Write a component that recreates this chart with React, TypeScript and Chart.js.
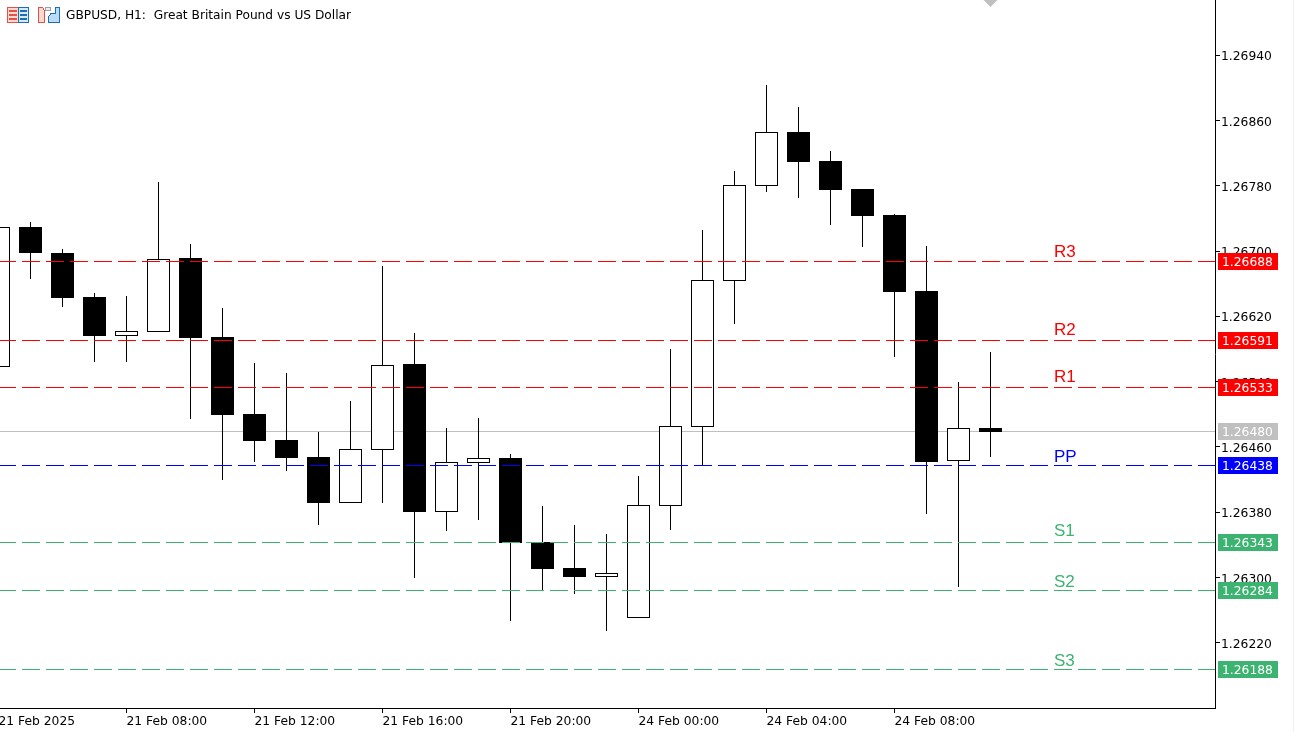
import React, { useEffect, useRef } from "react";
import { Chart, registerables } from "chart.js";

Chart.register(...registerables);

const FONT = "DejaVu Sans";
const FONT_SIZE = 12.3;

const titleText = "GBPUSD, H1:  Great Britain Pound vs US Dollar";

// candle position index, 1 hour per step
const opens = [1.26558, 1.267294, 1.266976, 1.266437, 1.265959, 1.266008, 1.266914, 1.265947, 1.265004, 1.264686, 1.264478, 1.263914, 1.264563, 1.265616, 1.263804, 1.264404, 1.264465, 1.263437, 1.263118, 1.263008, 1.262506, 1.263877, 1.264845, 1.266633, 1.267796, 1.268457, 1.268102, 1.267759, 1.267441, 1.26651, 1.264429, 1.264833];
const highs = [1.267294, 1.267355, 1.267025, 1.266486, 1.266449, 1.267845, 1.267086, 1.266302, 1.265629, 1.265506, 1.264784, 1.265163, 1.266816, 1.265996, 1.264833, 1.264955, 1.264514, 1.263877, 1.263645, 1.263535, 1.264245, 1.2658, 1.267257, 1.26798, 1.269033, 1.268763, 1.268225, 1.267759, 1.267453, 1.267061, 1.265396, 1.265763];
const lows = [1.26558, 1.266657, 1.266314, 1.265641, 1.265641, 1.266008, 1.264943, 1.264196, 1.264416, 1.264306, 1.263645, 1.263914, 1.263914, 1.262996, 1.263571, 1.263706, 1.262469, 1.262849, 1.2628, 1.262347, 1.262506, 1.263584, 1.26438, 1.266106, 1.267722, 1.267649, 1.267318, 1.267049, 1.265702, 1.26378, 1.262886, 1.264478];
const closes = [1.267294, 1.266976, 1.266425, 1.265959, 1.26602, 1.266902, 1.265935, 1.264992, 1.264673, 1.264465, 1.263914, 1.264576, 1.265604, 1.263804, 1.264416, 1.264465, 1.263424, 1.263106, 1.263008, 1.263057, 1.26389, 1.264857, 1.266645, 1.267808, 1.268457, 1.26809, 1.267747, 1.267429, 1.266498, 1.264416, 1.264833, 1.264784];

const xTickIndexes = [0, 4, 8, 12, 16, 20, 24, 28];
const xTickLabels = ["21 Feb 2025", "21 Feb 08:00", "21 Feb 12:00", "21 Feb 16:00", "21 Feb 20:00", "24 Feb 00:00", "24 Feb 04:00", "24 Feb 08:00"];
const yTickValues = [1.2694, 1.2686, 1.2678, 1.267, 1.2662, 1.2654, 1.2646, 1.2638, 1.263, 1.2622];

const levelNames = ["R3", "R2", "R1", "PP", "S1", "S2", "S3"];
const levelValues = [1.26688, 1.26591, 1.26533, 1.26438, 1.26343, 1.26284, 1.26188];
const levelColors = ["#ff0000", "#ff0000", "#ff0000", "#0000ff", "#3cb371", "#3cb371", "#3cb371"];
const levelTextGaps = [4, 5, 5, 3, 6, 3, 3];

const lastPrice = 1.2648;
const lastColor = "#c0c0c0";
const markerIndex = 31;

const X_MIN = 0.046875;
const X_MAX = 38.015625;
const Y_MIN = 1.2613995;
const Y_MAX = 1.270076;

const isUp = (i: number) => closes[i] >= opens[i];

const zeroPadding = (s: any) => {
  s.paddingLeft = 0;
  s.paddingRight = 0;
  s.paddingTop = 0;
  s.paddingBottom = 0;
};

const pixelPlugin = {
  id: "pixelPlugin",
  afterDatasetsUpdate(chart: any) {
    chart.data.datasets.forEach((ds: any, d: number) => {
      const meta = chart.getDatasetMeta(d);
      if (ds.type === "line" && ds.snap) {
        meta.data.forEach((p: any) => {
          p.y = Math.round(p.y) + 0.5;
        });
        const line = meta.dataset;
        if (line) line._path = undefined;
      }
      if (ds.type === "bar") {
        meta.data.forEach((b: any) => {
          b.y = Math.round(b.y);
          b.base = Math.round(b.base);
          b.height = b.base - b.y;
        });
      }
    });
  },
  afterDraw(chart: any) {
    const { ctx, scales } = chart;
    const y = scales.y;
    ctx.save();
    ctx.textBaseline = "alphabetic";
    ctx.textAlign = "left";

    // heading
    ctx.fillStyle = "#000000";
    ctx.font = `12.2px "${FONT}"`;
    ctx.fillText(titleText, 66, 19);

    const tag = (value: number, color: string) => {
      const row = Math.round(y.getPixelForValue(value));
      ctx.fillStyle = color;
      ctx.fillRect(1218, row - 8, 60, 17);
      ctx.fillStyle = "#ffffff";
      ctx.font = `${FONT_SIZE}px "${FONT}"`;
      ctx.fillText(value.toFixed(5), 1222, row + 5);
    };
    tag(lastPrice, lastColor);
    levelValues.forEach((v, i) => {
      tag(v, levelColors[i]);
      const row = Math.round(y.getPixelForValue(v));
      ctx.fillStyle = levelColors[i];
      ctx.font = `17px "Liberation Sans"`;
      ctx.fillText(levelNames[i], 1054, row - levelTextGaps[i]);
    });
    ctx.restore();
  },
};

function Icons() {
  return (
    <svg width={60} height={20} style={{ position: "absolute", left: 5, top: 5 }} shapeRendering="crispEdges">
      <rect x="2.5" y="2.5" width="11" height="15" fill="#fbd9cf" stroke="#e0524a" />
      <rect x="13.5" y="2.5" width="10" height="15" fill="#d5e9f8" stroke="#1b6fb5" />
      <path d="M4 6h8M4 10h8M4 14h8" stroke="#e0524a" strokeWidth="2" />
      <path d="M15 6h7M15 10h7M15 14h7" stroke="#1b6fb5" strokeWidth="2" />
      <path d="M33.5 2.5h4l2 3v12h-6z" fill="#fbd9cf" stroke="#e0524a" />
      <path d="M46 8.5h4.5v-6h4v15h-11v-6z" fill="#bcdcf6" stroke="#1b6fb5" />
      <rect x="40.5" y="2.5" width="5" height="3" fill="#eeeeee" stroke="#a0a0a0" />
    </svg>
  );
}

export default function App() {
  const ref = useRef<HTMLCanvasElement>(null);

  useEffect(() => {
    const idx = opens.map((_, i) => i);
    const chart = new Chart(ref.current as HTMLCanvasElement, {
      type: "bar",
      data: {
        datasets: [
          {
            type: "line",
            snap: true,
            label: "Last",
            data: [{ x: 0, y: lastPrice }, { x: X_MAX, y: lastPrice }],
            borderColor: lastColor,
            borderWidth: 1,
            pointRadius: 0,
            order: 6,
          },
          {
            type: "bar",
            label: "Range",
            data: idx.map((i) => ({ x: i, y: [lows[i], highs[i]] })),
            backgroundColor: "#000000",
            borderWidth: 0,
            barThickness: 1,
            grouped: false,
            inflateAmount: 0,
            order: 5,
          },
          {
            type: "bar",
            label: "Body",
            data: idx.map((i) => ({ x: i, y: [opens[i], closes[i]] })),
            backgroundColor: idx.map((i) => (isUp(i) ? "#ffffff" : "#000000")),
            borderColor: "#000000",
            borderWidth: 1,
            borderSkipped: false,
            barThickness: 23,
            grouped: false,
            inflateAmount: 0,
            order: 4,
          },
          ...levelValues.map((v, i) => ({
            type: "line",
            snap: true,
            label: levelNames[i],
            data: [{ x: 0, y: v }, { x: X_MAX, y: v }],
            borderColor: levelColors[i],
            borderWidth: 1,
            borderDash: [18, 6],
            borderDashOffset: 0.5,
            pointRadius: 0,
            order: 2,
          })),
          {
            type: "line",
            label: "Marker",
            data: [{ x: markerIndex, y: Y_MAX }],
            pointStyle: "rectRot",
            pointRadius: 7,
            pointBorderWidth: 0,
            pointBackgroundColor: lastColor,
            showLine: false,
            clip: false,
            order: 1,
          },
        ] as any,
      },
      options: {
        responsive: false,
        animation: false,
        devicePixelRatio: 1,
        layout: { padding: 0, autoPadding: false },
        plugins: { legend: { display: false }, tooltip: { enabled: false }, title: { display: false } },
        scales: {
          x: {
            type: "linear",
            min: X_MIN,
            max: X_MAX,
            offset: false,
            grid: { offset: false, drawOnChartArea: false, tickColor: "#000000", tickLength: 5, tickWidth: 1 },
            border: { color: "#000000", width: 1 },
            afterBuildTicks: (s: any) => {
              s.ticks = xTickIndexes.map((value) => ({ value }));
            },
            afterFit: (s: any) => {
              s.height = 24;
              zeroPadding(s);
            },
            ticks: {
              autoSkip: false,
              maxRotation: 0,
              minRotation: 0,
              align: "start",
              padding: 1,
              color: "#000000",
              font: { family: FONT, size: FONT_SIZE },
              callback: (v: any) => xTickLabels[xTickIndexes.indexOf(Number(v))] ?? "",
            },
          },
          y: {
            type: "linear",
            position: "right",
            min: Y_MIN,
            max: Y_MAX,
            grid: { drawOnChartArea: false, tickColor: "#000000", tickLength: 5, tickWidth: 1 },
            border: { color: "#000000", width: 1 },
            afterBuildTicks: (s: any) => {
              s.ticks = yTickValues.map((value) => ({ value }));
            },
            afterFit: (s: any) => {
              s.width = 78;
              zeroPadding(s);
            },
            ticks: {
              padding: 1,
              labelOffset: 2,
              color: "#000000",
              font: { family: FONT, size: FONT_SIZE },
              callback: (v: any) => Number(v).toFixed(5),
            },
          },
        },
      } as any,
      plugins: [pixelPlugin] as any,
    });
    return () => chart.destroy();
  }, []);

  return (
    <div style={{ position: "fixed", left: 0, top: 0, width: 1294, height: 732, background: "#f0f0f0", overflow: "hidden" }}>
      <canvas ref={ref} width={1293} height={732} style={{ display: "block", background: "#ffffff" }} />
      <Icons />
    </div>
  );
}
